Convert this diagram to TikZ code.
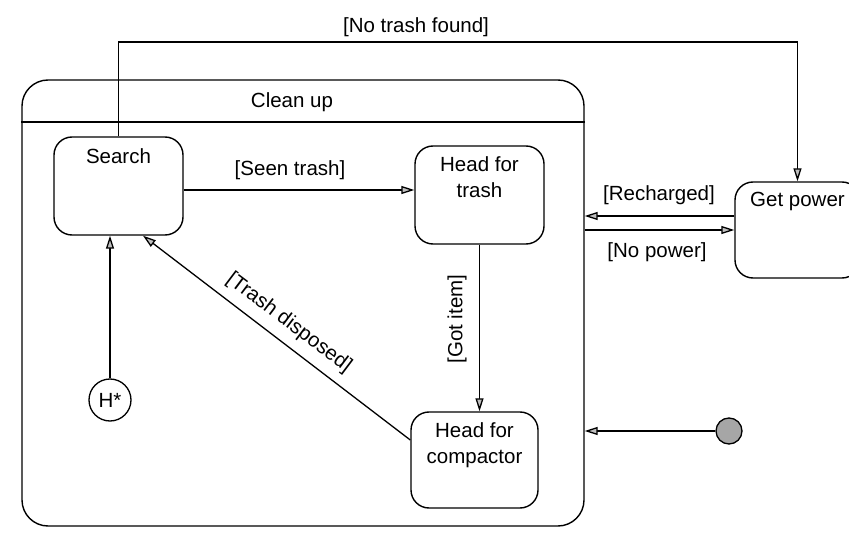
\documentclass[tikz,border=0pt]{standalone}
\usepackage{fontspec}
\setmainfont{Liberation Sans}
\usetikzlibrary{arrows.meta}
\begin{document}
\begin{tikzpicture}[x=1pt,y=-1pt,
  every node/.style={font=\fontsize{20.5}{26}\selectfont},
  statebox/.style={draw, line width=1.4pt, rounded corners=18pt, inner sep=0pt},
  tag/.style={inner sep=0pt, align=center},
  flow/.style={line width=1.3pt, -{Triangle[length=13pt,width=8pt,fill=gray!50]}},
  plain/.style={line width=1.3pt}]
\useasboundingbox (0,0) rectangle (849,537);
\begin{scope}
\clip (0,0) rectangle (849,537);

% composite state
\node[statebox, rounded corners=26pt, minimum width=562pt, minimum height=446pt] (cleanup) at (303,303) {};
\draw[plain] (cleanup.west |- 0,122) -- (cleanup.east |- 0,122);
\node[tag] (cleanuplbl) at (292,102) {Clean up};

% inner states
\node[statebox, minimum width=129pt, minimum height=98pt] (search) at (118.5,186) {};
\node[tag, anchor=north] (searchlbl) at ([yshift=-12pt]search.north) {Search};

\node[statebox, minimum width=129pt, minimum height=98pt] (trash) at (479.5,195) {};
\node[tag, anchor=north] (trashlbl) at ([yshift=-11pt]trash.north) {Head for\\trash};

\node[statebox, minimum width=127pt, minimum height=96pt] (compactor) at (474.5,460) {};
\node[tag, anchor=north] (compactorlbl) at ([yshift=-11pt]compactor.north) {Head for\\compactor};

\node[statebox, minimum width=125pt, minimum height=96pt] (power) at (797.5,230) {};
\node[tag, anchor=north] (powerlbl) at ([yshift=-11pt]power.north) {Get power};

% history and initial pseudo-states
\node[circle, draw, line width=1.3pt, minimum size=42pt, inner sep=0pt] (hist) at (110,400) {H*};
\node[circle, draw, line width=1.3pt, fill=gray!70, minimum size=26pt, inner sep=0pt] (init) at (729,431) {};

% transitions
\draw[flow] (search.east |- 0,190) -- (trash.west |- 0,190);
\node[tag] (seenlbl) at (290,170) {[Seen trash]};

\draw[flow] (trash.south) -- (trash.south |- compactor.north);
\node[tag, rotate=90] (gotlbl) at (457,319) {[Got item]};

\coordinate (sdock) at ([xshift=24.5pt]search.south);
\draw[flow] (compactor.west |- 0,440) -- (sdock);
\node[tag, rotate=-37] (disposedlbl) at (289,323) {[Trash disposed]};

\draw[flow] (hist.north) -- (hist.north |- search.south);

\coordinate (toprow) at (0,42);
\draw[flow] (search.north) -- (search.north |- toprow) -- (power.north |- toprow) -- (power.north);
\node[tag] (nofoundlbl) at (416,27) {[No trash found]};

\draw[flow] (power.west |- 0,216) -- (cleanup.east |- 0,216);
\node[tag] (rechargedlbl) at (659,195) {[Recharged]};

\draw[flow] (cleanup.east |- 0,230) -- (power.west |- 0,230);
\node[tag] (nopowerlbl) at (657,252) {[No power]};

\draw[flow] (init.west) -- (init.west -| cleanup.east);
\end{scope}
\end{tikzpicture}
\end{document}
